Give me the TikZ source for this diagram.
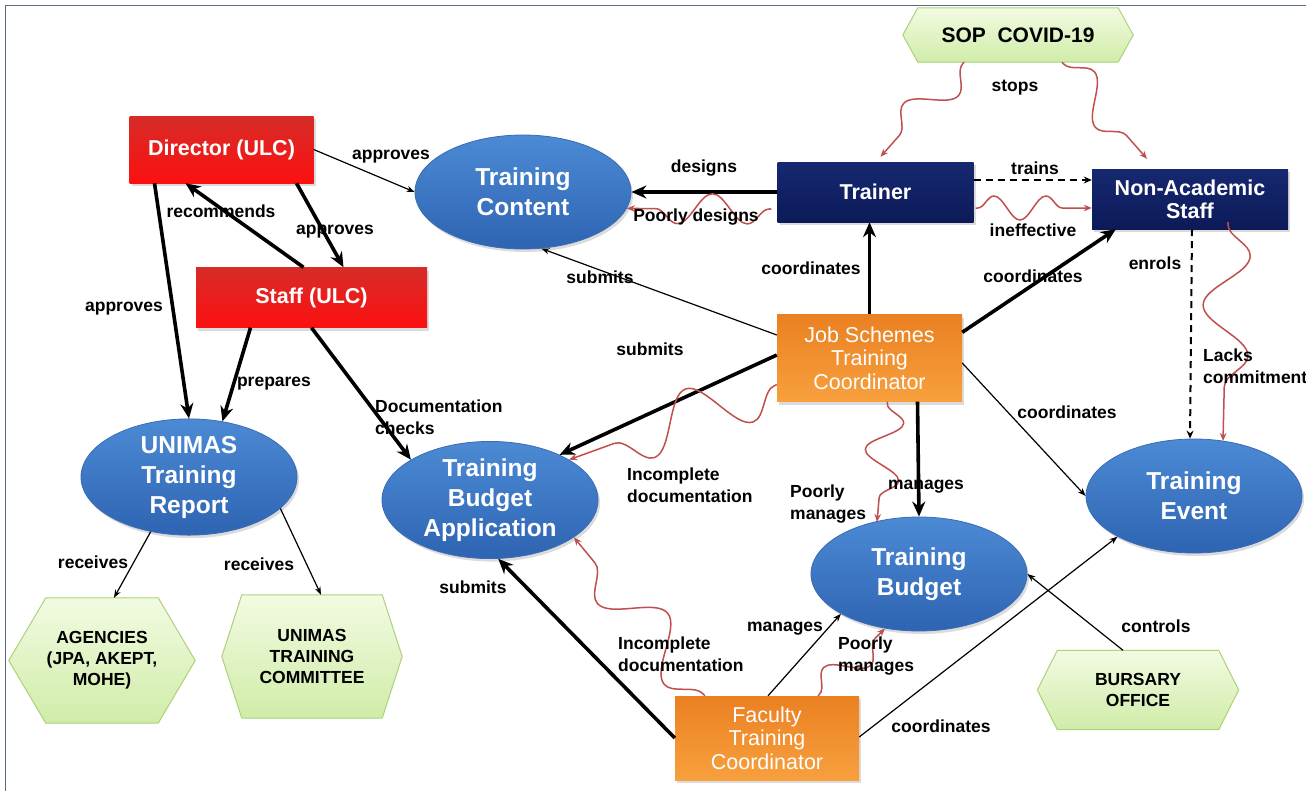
\documentclass[tikz,border=0pt]{standalone}
\usepackage{fontspec}
\setmainfont{Liberation Sans}
\usetikzlibrary{arrows.meta,calc,decorations.pathmorphing,shadows,backgrounds,shapes.geometric}

\definecolor{redT}{RGB}{214,44,40}
\definecolor{redB}{RGB}{252,16,16}
\definecolor{navyT}{RGB}{22,40,112}
\definecolor{navyB}{RGB}{12,26,88}
\definecolor{orgT}{RGB}{234,128,34}
\definecolor{orgB}{RGB}{248,160,62}
\definecolor{bluT}{RGB}{76,138,212}
\definecolor{bluB}{RGB}{46,100,178}
\definecolor{bluD}{RGB}{58,108,180}
\definecolor{hexT}{RGB}{242,251,226}
\definecolor{hexB}{RGB}{208,236,168}
\definecolor{hexD}{RGB}{172,210,122}
\definecolor{wred}{RGB}{192,80,77}
\definecolor{framec}{RGB}{88,108,138}

\newcommand\hexat[2]{%
  \begin{scope}[on background layer]
    \draw[draw=hexD, line width=1pt, top color=hexT, bottom color=hexB]
      (#1.west) -- ($(#1.north west)+(#2,0)$) -- ($(#1.north east)+(-#2,0)$)
      -- (#1.east) -- ($(#1.south east)+(-#2,0)$) -- ($(#1.south west)+(#2,0)$) -- cycle;
  \end{scope}}

\begin{document}
\begin{tikzpicture}[x=1pt,y=-1pt,
  shad/.style={drop shadow={opacity=0.28, shadow xshift=2pt, shadow yshift=-3pt}},
  redbox/.style={rectangle, shad, top color=redT, bottom color=redB, draw=none, inner sep=0,
     text=white, font=\bfseries\fontsize{21.5}{24}\selectfont, align=center},
  navybox/.style={rectangle, shad, top color=navyT, bottom color=navyB, draw=none, inner sep=0,
     text=white, font=\bfseries\fontsize{21.5}{23}\selectfont, align=center},
  orangebox/.style={rectangle, shad, top color=orgT, bottom color=orgB, draw=none, inner sep=0,
     text=white, font=\fontsize{21.5}{23.5}\selectfont, align=center},
  bluell/.style={ellipse, shad, top color=bluT, bottom color=bluB, draw=bluD, line width=0.8pt,
     minimum width=216, minimum height=114, inner sep=0,
     text=white, font=\bfseries\fontsize{24.5}{30}\selectfont, align=center},
  hexbox/.style={rectangle, inner sep=0, text=black,
     font=\bfseries\fontsize{17.5}{21}\selectfont, align=center},
  lbl/.style={inner sep=0, font=\bfseries\fontsize{17.5}{21.5}\selectfont, align=center},
  lbll/.style={lbl, align=left, anchor=west},
  thickarr/.style={line width=3.6pt, -{Stealth[length=15pt,width=13pt]}},
  thinarr/.style={line width=1.2pt, -{Stealth[length=8pt,width=6pt]}},
  dasharr/.style={line width=2pt, dash pattern=on 7pt off 5pt, -{Stealth[length=8pt,width=7pt]}},
  wavy/.style={draw=wred, line width=1.5pt, -{Stealth[length=8pt,width=6.5pt]}, decorate,
     decoration={snake, amplitude=12pt, segment length=70pt, pre length=2pt, post length=8pt}}
]
\useasboundingbox (0,0) rectangle (1306,790);
\begin{scope}[on background layer]
  \fill[white] (0,0) rectangle (1306,790);
\end{scope}
\draw[framec, line width=1.5pt] (5.5,5.5) rectangle (1320,800);

% ---------- nodes ----------
\node[redbox, minimum width=184, minimum height=67] (dir) at (221.5,149.5) {Director (ULC)};
\node[redbox, minimum width=231, minimum height=60] (staff) at (311.5,297.5) {Staff (ULC)};
\node[bluell] (tc) at (523,192) {Training\\Content};
\node[navybox, minimum width=196, minimum height=60] (trainer) at (875.5,192) {Trainer};
\node[navybox, minimum width=196, minimum height=60] (nas) at (1190,199) {Non-Academic\\Staff};
\node[orangebox, minimum width=185, minimum height=87] (jstc) at (869.5,358) {Job Schemes\\Training\\Coordinator};
\node[bluell] (report) at (189,477) {UNIMAS\\Training\\Report};
\node[bluell] (tba) at (490,500) {Training\\Budget\\Application};
\node[bluell] (tb) at (919,574) {Training\\Budget};
\node[bluell] (te) at (1194,496) {Training\\Event};
\node[orangebox, minimum width=184, minimum height=84] (ftc) at (767,738) {Faculty\\Training\\Coordinator};
\node[hexbox, minimum width=230, minimum height=54, font=\bfseries\fontsize{21}{24}\selectfont] (sop) at (1018,35) {SOP\ \ COVID-19};
\node[hexbox, minimum width=186, minimum height=125] (agencies) at (102,660.5) {AGENCIES\\(JPA, AKEPT,\\MOHE)};
\node[hexbox, minimum width=180, minimum height=123] (committee) at (312,656.5) {UNIMAS\\TRAINING\\COMMITTEE};
\node[hexbox, minimum width=201, minimum height=79] (bo) at (1138,690) {BURSARY\\OFFICE};
\hexat{sop}{15}
\hexat{agencies}{37}
\hexat{committee}{20}
\hexat{bo}{20}

% ---------- connectors ----------
\draw[thinarr] (dir.east) -- (tc.west);
\draw[thickarr] ($(dir.south)+(75,0)$) -- ($(staff.north)+(32,0)$);
\draw[thickarr] ($(staff.north)+(-8,0)$) -- ($(dir.south)+(-36,0)$);
\draw[thickarr] ($(dir.south)+(-67,0)$) -- (report.north);
\draw[thickarr] ($(staff.south)+(-61,0)$) -- (report.59);
\draw[thickarr] (staff.south) -- (tba.153);
\draw[thinarr] ($(jstc.west)+(0,-23)$) -- (tc.-72);
\draw[thickarr] ($(jstc.west)+(0,-3)$) -- (tba.33);
\draw[thickarr] (trainer.west) -- (tc.east);
\draw[dasharr] ($(trainer.east)+(0,-12)$) -- ($(nas.west)+(0,-19)$);
\draw[thickarr] (jstc.north) -- ($(trainer.south)+(-6,0)$);
\draw[thickarr] ($(jstc.north east)+(0,18)$) -- ($(nas.south west)+(24,0)$);
\draw[dasharr] ($(nas.south)+(2,0)$) -- ($(te.north)+(-4,0)$);
\draw[thinarr] ($(jstc.east)+(0,5)$) -- (te.west);
\draw[thickarr] ($(jstc.south)+(48,0)$) -- (tb.north);
\draw[thickarr] (ftc.west) -- (tba.-82);
\draw[thinarr] ($(ftc.north)+(1,0)$) -- (tb.-153);
\draw[thinarr] ($(ftc.east)+(0,-1)$) -- (te.-152);
\draw[thinarr] ($(bo.north)+(-15,0)$) -- (tb.east);
\draw[thinarr] (report.-125) -- ($(agencies.north)+(12,0)$);
\draw[thinarr] (report.-19) -- ($(committee.north)+(9,0)$);

% wavy (negative) relations
\draw[wavy, decoration={amplitude=18pt, segment length=85pt}] ($(sop.south)+(-54,0)$) -- ($(trainer.north)+(5,-5)$);
\draw[wavy, decoration={amplitude=18pt, segment length=85pt}] ($(sop.south)+(44,0)$) -- ($(nas.north)+(-43,-10)$);
\draw[wavy, decoration={amplitude=15pt, segment length=70pt}] ($(trainer.west)+(-6,17)$) -- (tc.-9);
\draw[wavy, decoration={amplitude=12pt, segment length=52pt}] ($(trainer.east)+(2,16)$) -- ($(nas.west)+(0,9)$);
\draw[wavy, decoration={amplitude=23pt, segment length=100pt}] ($(nas.south)+(38,-7)$) -- ($(te.center)+(29,-55)$);
\draw[wavy, decoration={amplitude=27pt, segment length=105pt}] ($(jstc.south west)+(0,-17)$) -- (tba.27);
\draw[wavy, decoration={amplitude=18pt, segment length=58pt}] ($(jstc.south)+(18,0)$) -- ($(tb.center)+(-42,-52)$);
\draw[wavy, decoration={amplitude=24pt, segment length=105pt}] ($(ftc.north west)+(30,0)$) -- (tba.-24);
\draw[wavy, decoration={amplitude=16pt, segment length=70pt}] ($(ftc.north)+(51,0)$) -- (tb.-122);

% ---------- labels ----------
\node[lbl] (l1) at (391,157) {approves};
\node[lbl] (l2) at (221,211) {recommends};
\node[lbl] (l3) at (335,232) {approves};
\node[lbl] (l4) at (124,309) {approves};
\node[lbl] (l5) at (274,384) {prepares};
\node[lbll] (l6) at (375,417) {Documentation\\checks};
\node[lbl] (l7) at (600,277) {submits};
\node[lbl] (l8) at (650,349) {submits};
\node[lbl] (l9) at (704,168) {designs};
\node[lbl] (l10) at (696,217) {Poorly designs};
\node[lbl] (l11) at (1035,168) {trains};
\node[lbl] (l12) at (1033,230) {ineffective};
\node[lbl] (l13) at (1015,88) {stops};
\node[lbl] (l14) at (811,268) {coordinates};
\node[lbl] (l15) at (1033,276) {coordinates};
\node[lbl] (l16) at (1155,263) {enrols};
\node[lbll] (l17) at (1203,366) {Lacks\\commitment};
\node[lbl] (l18) at (1067,412) {coordinates};
\node[lbll] (l19) at (627,485) {Incomplete\\documentation};
\node[lbll] (l20) at (790,504) {Poorly\\manages};
\node[lbl] (l21) at (926,487) {manages};
\node[lbl] (l22) at (473,587) {submits};
\node[lbll] (l23) at (618,654) {Incomplete\\documentation};
\node[lbl] (l24) at (785,629) {manages};
\node[lbll] (l25) at (838,656) {Poorly\\manages};
\node[lbl] (l26) at (941,726) {coordinates};
\node[lbl] (l27) at (1156,626) {controls};
\node[lbl] (l28) at (93,562) {receives};
\node[lbl] (l29) at (259,564) {receives};
\end{tikzpicture}
\end{document}
